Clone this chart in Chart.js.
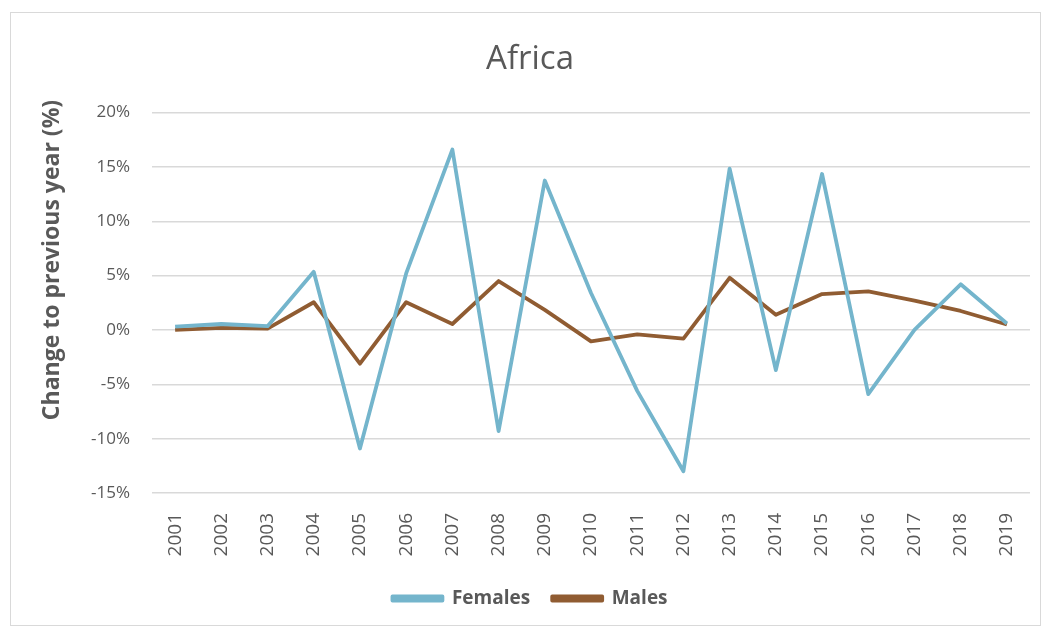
<!DOCTYPE html>
<html>
<head>
<meta charset="utf-8">
<script src="https://cdn.jsdelivr.net/npm/chart.js@4.4.0/dist/chart.umd.min.js"></script>
<style>
html,body{margin:0;padding:0;background:#fff;}
#wrap{position:absolute;left:0;top:0;width:1047px;height:628px;}
</style>
</head>
<body>
<div id="wrap"><canvas id="c" width="1047" height="628"></canvas></div>
<script>
const years = ['2001','2002','2003','2004','2005','2006','2007','2008','2009','2010','2011','2012','2013','2014','2015','2016','2017','2018','2019'];
const females = [0.3, 0.55, 0.35, 5.35, -10.9, 5.2, 16.6, -9.3, 13.75, 3.4, -5.6, -13.0, 14.85, -3.7, 14.35, -5.9, 0.0, 4.2, 0.6];
const males = [0.0, 0.2, 0.12, 2.55, -3.1, 2.55, 0.55, 4.5, 1.85, -1.05, -0.4, -0.8, 4.8, 1.4, 3.3, 3.55, 2.7, 1.75, 0.5];
const yTicks = [-15, -10, -5, 0, 5, 10, 15, 20];
const yTitle = 'Change to previous year (%)';

const TXT = '#595959';
const borderPlugin = {
  id: 'outerBorder',
  beforeDraw(chart) {
    const ctx = chart.ctx;
    ctx.save();
    ctx.fillStyle = '#fff';
    ctx.fillRect(0, 0, chart.width, chart.height);
    ctx.strokeStyle = '#d9d9d9';
    ctx.lineWidth = 1;
    ctx.strokeRect(10.5, 12.5, 1030, 613);
    ctx.restore();
  },
  afterDraw(chart) {
    const ctx = chart.ctx;
    ctx.save();
    ctx.translate(52, 260);
    ctx.rotate(-Math.PI / 2);
    ctx.fillStyle = TXT;
    ctx.font = 'bold 23px "Open Sans"';
    ctx.textAlign = 'center';
    ctx.textBaseline = 'middle';
    ctx.fillText(yTitle, 0, 0);
    ctx.restore();
  }
};

new Chart(document.getElementById('c'), {
  type: 'line',
  data: {
    labels: years,
    datasets: [
      {label: 'Females', data: females, borderColor: '#74b5cc', backgroundColor: '#74b5cc', borderWidth: 3.8, pointRadius: 0, tension: 0, borderJoinStyle: 'round'},
      {label: 'Males', data: males, borderColor: '#905c32', backgroundColor: '#905c32', borderWidth: 3.8, pointRadius: 0, tension: 0, borderJoinStyle: 'round'}
    ]
  },
  options: {
    responsive: false,
    animation: false,
    layout: {padding: {left: 30, right: 17, top: 40, bottom: 10}},
    plugins: {
      title: {display: true, text: 'Africa', color: TXT, font: {family: 'Open Sans', size: 33, weight: 'normal'}, padding: {top: 0, bottom: 33}},
      legend: {
        position: 'bottom',
        labels: {color: TXT, font: {family: 'Open Sans', size: 19, weight: 'bold'}, boxWidth: 50, boxHeight: 4, padding: 22}
      },
      tooltip: {enabled: false}
    },
    scales: {
      x: {
        offset: true,
        grid: {display: false},
        border: {display: false},
        ticks: {color: TXT, font: {family: 'Open Sans', size: 19}, maxRotation: 90, minRotation: 90, padding: 12},
        afterFit(s) { s.height = 74; }
      },
      y: {
        min: -15, max: 20,
        afterBuildTicks(s) { s.ticks = yTicks.map(v => ({value: v})); },
        grid: {color: '#d9d9d9', lineWidth: 1.5, drawTicks: false},
        border: {display: false},
        ticks: {color: TXT, font: {family: 'Open Sans', size: 17}, padding: 22, callback: v => v + '%'},
        afterFit(s) { s.width = 122; }
      }
    }
  },
  plugins: [borderPlugin]
});
</script>
</body>
</html>
